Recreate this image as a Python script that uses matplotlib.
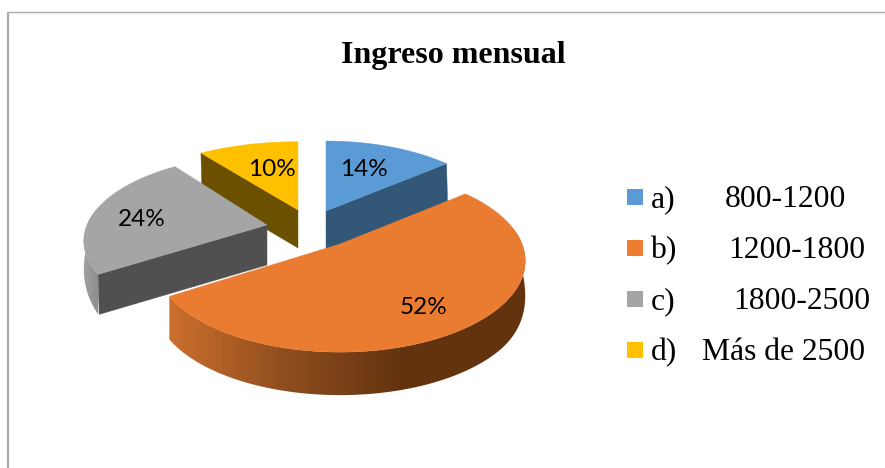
import numpy as np
import matplotlib
matplotlib.use("Agg")
import matplotlib.pyplot as plt
from matplotlib.colors import LinearSegmentedColormap
from matplotlib.patches import Polygon

# --- data
title = "Ingreso mensual"
letters = ["a)", "b)", "c)", "d)"]
ranges = ["800-1200", "1200-1800", "1800-2500", "Más de 2500"]
values = [14, 52, 24, 10]
labels = ["14%", "52%", "24%", "10%"]

# --- style / layout (pixel space of the 885x468 figure)
top_col = ["#5B9BD5", "#EA7C31", "#A5A5A5", "#FFC000"]
leg_col = ["#5B9BD5", "#ED7D31", "#A5A5A5", "#FFC000"]
face_col = ["#335877", "#63330F", "#505050", "#6B5000"]
apex = [(326, 211), (340, 244), (267, 225), (298, 210)]
radx = [175, 182, 180, 190]
rady = [83, 88, 83, 81]
depth = [39, 43, 40, 38]
K = 0.186
label_xy = [(364, 169), (424, 308), (142, 219), (272, 169)]
range_x = [725, 728, 733, 702]
leg_y = [196, 247, 298, 349]

fig = plt.figure(figsize=(8.85, 4.68), dpi=100, facecolor="white")
ax = fig.add_axes([0, 0, 1, 1])
ax.axis("off")


def proj(i, th):
    u, v = np.sin(th), -np.cos(th)
    w = 1 - K * v
    return apex[i][0] + radx[i] * u / w, apex[i][1] + rady[i] * v / w


edges = np.radians(np.cumsum([0] + values) * 3.6)


def cut_face(i, p, z):
    d = depth[i]
    ax.fill([apex[i][0], p[0], p[0] + 1, apex[i][0]],
            [apex[i][1], p[1], p[1] + d, apex[i][1] + d],
            color=face_col[i], lw=0.3, zorder=z)


def rim(i, th, d, stops, xa, xb, z):
    x, y = proj(i, th)
    poly = np.c_[np.r_[x, x[::-1]], np.r_[y, (y + d)[::-1]]]
    cmap = LinearSegmentedColormap.from_list("rim", stops)
    left, right = poly[:, 0].min() - 1, poly[:, 0].max() + 1
    top, bot = poly[:, 1].min() - 1, poly[:, 1].max() + 1
    grad = np.clip((np.linspace(left, right, 400) - xa) / (xb - xa), 0, 1)[None, :]
    im = ax.imshow(grad, cmap=cmap, vmin=0, vmax=1, extent=(left, right, bot, top),
                   aspect="auto", zorder=z, interpolation="bilinear")
    patch = Polygon(poly, closed=True, transform=ax.transData, fc="none", ec="none")
    ax.add_patch(patch)
    im.set_clip_path(patch)


def top_face(i, z):
    th = np.linspace(edges[i], edges[i + 1], 200)
    x, y = proj(i, th)
    ax.fill(np.r_[apex[i][0], x], np.r_[apex[i][1], y], color=top_col[i], lw=0.3, zorder=z)


# yellow (back)
cut_face(3, proj(3, edges[3]), 1)
top_face(3, 1.2)

# blue
cut_face(0, proj(0, edges[1]), 2)
top_face(0, 2.2)

# gray: rim tapers out towards the left silhouette
th = np.linspace(edges[2], np.radians(281), 150)
tt = (th - th[0]) / (th[-1] - th[0])
rim(2, th, depth[2] * np.sqrt(1 - tt), ["#8A8A8A", "#A0A0A0"], 100, 84, 3)
cut_face(2, proj(2, edges[2]), 3.1)
top_face(2, 3.2)

# orange: rim with horizontal gradient, tapers out on the right
th = np.linspace(np.radians(80), edges[2], 300)
tt = np.clip((th - th[0]) / np.radians(50), 0, 1)
rim(1, th, depth[1] * np.sqrt(1 - (1 - tt) ** 2), ["#CB6F2C", "#8E4D1E", "#63330F", "#63330F"],
    170, 520, 4)
top_face(1, 4.2)

for (lx, ly), s in zip(label_xy, labels):
    ax.text(lx, ly, s, family="Lato", fontsize=17.5, ha="center", va="center",
            color="black", zorder=10)

ax.text(453, 56, title, family="Liberation Serif", fontweight="bold", fontsize=23,
        ha="center", va="center", color="black")

for y, c, a, r, rx in zip(leg_y, leg_col, letters, ranges, range_x):
    ax.fill([627, 643, 643, 627], [y - 7, y - 7, y + 9, y + 9], color=c, lw=0)
    ax.text(651, y, a, family="Liberation Serif", fontsize=22.8, ha="left", va="center_baseline")
    ax.text(rx, y, r, family="Liberation Serif", fontsize=22.8, ha="left", va="center_baseline")

ax.plot([8, 8], [468, 12], color="#ababab", lw=1.6, solid_capstyle="butt")
ax.plot([8, 885], [12, 12], color="#ababab", lw=1.0, solid_capstyle="butt")

ax.set_xlim(0, 885)
ax.set_ylim(468, 0)

fig.savefig("out.png", dpi=100)
